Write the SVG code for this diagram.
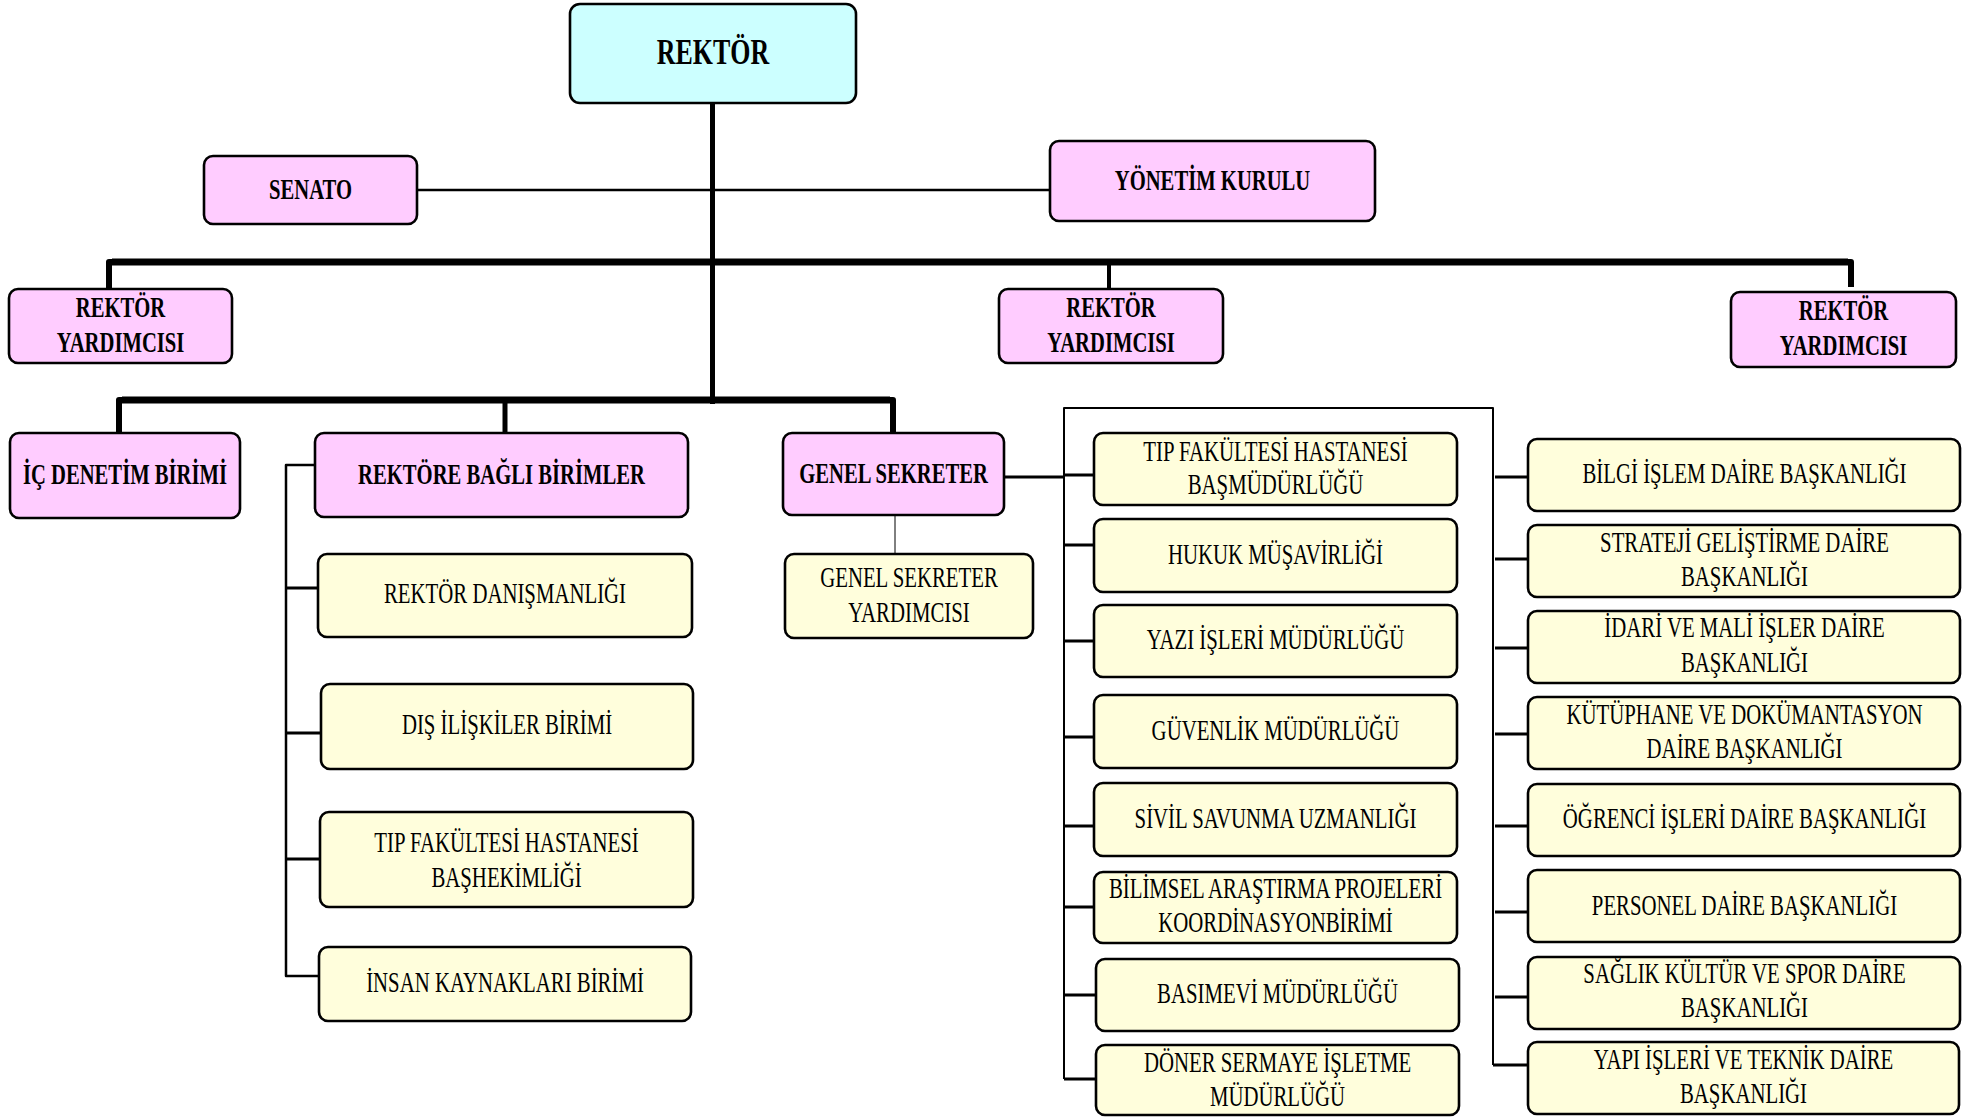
<svg xmlns="http://www.w3.org/2000/svg" width="1962" height="1117" viewBox="0 0 1962 1117">
  <style>
    .box { stroke: #000; stroke-width: 2.6; }
    .cyan { fill: #CCFFFF; }
    .pink { fill: #FFCCFF; }
    .yel { fill: #FFFEDC; }
    text { font-family: "Liberation Serif", "Times New Roman", "DejaVu Serif", serif; fill: #000; text-anchor: middle; }
    .b { font-size: 29.5px; font-weight: bold; }
    .big { font-size: 36px; font-weight: bold; }
    .r { font-size: 28.5px; }
    .wire { fill: none; stroke: #000; stroke-linejoin: round; }
    .w6 { stroke-width: 6; }
    .w5 { stroke-width: 5; }
    .w3 { stroke-width: 3; }
    .w25 { stroke-width: 2.5; }
    .w2 { stroke-width: 2; }
  </style>

  <rect width="1962" height="1117" fill="#fff"/>

  <!-- connectors -->
  <g id="connectors">
    <!-- trunk from the rector down to the lower bar -->
    <path class="wire w5" d="M712.5 103 V404"/>
    <!-- board line -->
    <path class="wire w25" d="M417 190 H1050"/>
    <!-- vice-rector bar -->
    <path class="wire w6" d="M109 289 V262 H1851 V287"/>
    <path class="wire" stroke-width="7" d="M112 262 H1848"/>
    <path class="wire" stroke-width="4" d="M1109 262 V289"/>
    <!-- lower bar -->
    <path class="wire w6" d="M119 433 V400 H893 V433"/>
    <path class="wire" stroke-width="7" d="M122 400 H890"/>
    <path class="wire w5" d="M505 400 V432"/>
    <!-- units attached to the rector -->
    <path class="wire w25" d="M315 465 H286 V976 H319"/>
    <path class="wire w3" d="M286 588 H318 M286 733 H321 M286 859 H320"/>
    <!-- secretary general to deputy -->
    <path class="wire" stroke="#777" stroke-width="1" d="M895 515 V554"/>
    <!-- secretary general to the departments -->
    <path class="wire w3" d="M1004 477 H1064"/>
    <path class="wire w2" d="M1064 1079 V408 H1493 V1065"/>
    <path class="wire w3" d="M1064 475 H1094 M1064 545 H1094 M1064 641 H1094 M1064 737 H1094 M1064 826 H1094 M1064 907 H1094 M1064 995 H1096 M1064 1079 H1096"/>
    <path class="wire w3" d="M1495 477 H1528 M1495 559 H1528 M1495 648 H1528 M1495 734 H1528 M1495 826 H1528 M1495 912 H1528 M1495 997 H1528 M1493 1065 H1528"/>
  </g>

  <!-- top level -->
  <g id="rektor">
    <rect class="box cyan" x="570" y="4" width="286" height="99" rx="10"/>
    <text class="big" transform="translate(713 0) scale(.72 1)" y="64">REKTÖR</text>
  </g>
  <g id="senato">
    <rect class="box pink" x="204" y="156" width="213" height="68" rx="9"/>
    <text class="b" transform="translate(310.5 0) scale(.70 1)" y="199">SENATO</text>
  </g>
  <g id="yonetim-kurulu">
    <rect class="box pink" x="1050" y="141" width="325" height="80" rx="9"/>
    <text class="b" transform="translate(1212.5 0) scale(.70 1)" y="190">YÖNETİM KURULU</text>
  </g>

  <!-- vice rectors -->
  <g id="rektor-yardimcisi-1">
    <rect class="box pink" x="9" y="289" width="223" height="74" rx="9"/>
    <text class="b" transform="translate(120.5 0) scale(.70 1)" y="317">REKTÖR</text>
    <text class="b" transform="translate(120.5 0) scale(.70 1)" y="352">YARDIMCISI</text>
  </g>
  <g id="rektor-yardimcisi-2">
    <rect class="box pink" x="999" y="289" width="224" height="74" rx="9"/>
    <text class="b" transform="translate(1111 0) scale(.70 1)" y="317">REKTÖR</text>
    <text class="b" transform="translate(1111 0) scale(.70 1)" y="352">YARDIMCISI</text>
  </g>
  <g id="rektor-yardimcisi-3">
    <rect class="box pink" x="1731" y="292" width="225" height="75" rx="9"/>
    <text class="b" transform="translate(1843.5 0) scale(.70 1)" y="320">REKTÖR</text>
    <text class="b" transform="translate(1843.5 0) scale(.70 1)" y="355">YARDIMCISI</text>
  </g>

  <!-- second level -->
  <g id="ic-denetim">
    <rect class="box pink" x="10" y="433" width="230" height="85" rx="9"/>
    <text class="b" transform="translate(125 0) scale(.70 1)" y="484">İÇ DENETİM BİRİMİ</text>
  </g>
  <g id="rektore-bagli">
    <rect class="box pink" x="315" y="433" width="373" height="84" rx="9"/>
    <text class="b" transform="translate(501.5 0) scale(.70 1)" y="484">REKTÖRE BAĞLI BİRİMLER</text>
  </g>
  <g id="genel-sekreter">
    <rect class="box pink" x="783" y="433" width="221" height="82" rx="9"/>
    <text class="b" transform="translate(893.5 0) scale(.70 1)" y="483">GENEL SEKRETER</text>
  </g>
  <g id="genel-sekreter-yardimcisi">
    <rect class="box yel" x="785" y="554" width="248" height="84" rx="9"/>
    <text class="r" transform="translate(909 0) scale(.73 1)" y="587">GENEL SEKRETER</text>
    <text class="r" transform="translate(909 0) scale(.73 1)" y="622">YARDIMCISI</text>
  </g>

  <!-- units attached to the rector -->
  <g id="rektor-danismanligi">
    <rect class="box yel" x="318" y="554" width="374" height="83" rx="9"/>
    <text class="r" transform="translate(505 0) scale(.73 1)" y="603">REKTÖR DANIŞMANLIĞI</text>
  </g>
  <g id="dis-iliskiler">
    <rect class="box yel" x="321" y="684" width="372" height="85" rx="9"/>
    <text class="r" transform="translate(507 0) scale(.73 1)" y="734">DIŞ İLİŞKİLER BİRİMİ</text>
  </g>
  <g id="tip-bashekimligi">
    <rect class="box yel" x="320" y="812" width="373" height="95" rx="9"/>
    <text class="r" transform="translate(506.5 0) scale(.73 1)" y="852">TIP FAKÜLTESİ HASTANESİ</text>
    <text class="r" transform="translate(506.5 0) scale(.73 1)" y="887">BAŞHEKİMLİĞİ</text>
  </g>
  <g id="insan-kaynaklari">
    <rect class="box yel" x="319" y="947" width="372" height="74" rx="9"/>
    <text class="r" transform="translate(505 0) scale(.73 1)" y="992">İNSAN KAYNAKLARI BİRİMİ</text>
  </g>

  <!-- units under the secretary general: first column -->
  <g id="tip-basmudurlugu">
    <rect class="box yel" x="1094" y="433" width="363" height="72" rx="9"/>
    <text class="r" transform="translate(1275.5 0) scale(.73 1)" y="461">TIP FAKÜLTESİ HASTANESİ</text>
    <text class="r" transform="translate(1275.5 0) scale(.73 1)" y="494">BAŞMÜDÜRLÜĞÜ</text>
  </g>
  <g id="hukuk">
    <rect class="box yel" x="1094" y="519" width="363" height="73" rx="9"/>
    <text class="r" transform="translate(1275.5 0) scale(.73 1)" y="564">HUKUK MÜŞAVİRLİĞİ</text>
  </g>
  <g id="yazi-isleri">
    <rect class="box yel" x="1094" y="605" width="363" height="72" rx="9"/>
    <text class="r" transform="translate(1275.5 0) scale(.73 1)" y="649">YAZI İŞLERİ MÜDÜRLÜĞÜ</text>
  </g>
  <g id="guvenlik">
    <rect class="box yel" x="1094" y="695" width="363" height="73" rx="9"/>
    <text class="r" transform="translate(1275.5 0) scale(.73 1)" y="740">GÜVENLİK MÜDÜRLÜĞÜ</text>
  </g>
  <g id="sivil-savunma">
    <rect class="box yel" x="1094" y="783" width="363" height="73" rx="9"/>
    <text class="r" transform="translate(1275.5 0) scale(.73 1)" y="828">SİVİL SAVUNMA UZMANLIĞI</text>
  </g>
  <g id="bap">
    <rect class="box yel" x="1094" y="872" width="363" height="71" rx="9"/>
    <text class="r" transform="translate(1275.5 0) scale(.73 1)" y="898">BİLİMSEL ARAŞTIRMA PROJELERİ</text>
    <text class="r" transform="translate(1275.5 0) scale(.73 1)" y="932">KOORDİNASYONBİRİMİ</text>
  </g>
  <g id="basimevi">
    <rect class="box yel" x="1096" y="959" width="363" height="72" rx="9"/>
    <text class="r" transform="translate(1277.5 0) scale(.73 1)" y="1003">BASIMEVİ MÜDÜRLÜĞÜ</text>
  </g>
  <g id="doner-sermaye">
    <rect class="box yel" x="1096" y="1045" width="363" height="70" rx="9"/>
    <text class="r" transform="translate(1277.5 0) scale(.73 1)" y="1072">DÖNER SERMAYE İŞLETME</text>
    <text class="r" transform="translate(1277.5 0) scale(.73 1)" y="1106">MÜDÜRLÜĞÜ</text>
  </g>

  <!-- units under the secretary general: second column -->
  <g id="bilgi-islem">
    <rect class="box yel" x="1528" y="439" width="432" height="72" rx="9"/>
    <text class="r" transform="translate(1744.5 0) scale(.73 1)" y="483">BİLGİ İŞLEM DAİRE BAŞKANLIĞI</text>
  </g>
  <g id="strateji">
    <rect class="box yel" x="1528" y="525" width="432" height="72" rx="9"/>
    <text class="r" transform="translate(1744.5 0) scale(.73 1)" y="552">STRATEJİ GELİŞTİRME DAİRE</text>
    <text class="r" transform="translate(1744.5 0) scale(.73 1)" y="586">BAŞKANLIĞI</text>
  </g>
  <g id="idari-mali">
    <rect class="box yel" x="1528" y="611" width="432" height="72" rx="9"/>
    <text class="r" transform="translate(1744.5 0) scale(.73 1)" y="637">İDARİ VE MALİ İŞLER DAİRE</text>
    <text class="r" transform="translate(1744.5 0) scale(.73 1)" y="672">BAŞKANLIĞI</text>
  </g>
  <g id="kutuphane">
    <rect class="box yel" x="1528" y="697" width="432" height="72" rx="9"/>
    <text class="r" transform="translate(1744.5 0) scale(.73 1)" y="724">KÜTÜPHANE VE DOKÜMANTASYON</text>
    <text class="r" transform="translate(1744.5 0) scale(.73 1)" y="758">DAİRE BAŞKANLIĞI</text>
  </g>
  <g id="ogrenci-isleri">
    <rect class="box yel" x="1528" y="784" width="432" height="72" rx="9"/>
    <text class="r" transform="translate(1744.5 0) scale(.73 1)" y="828">ÖĞRENCİ İŞLERİ DAİRE BAŞKANLIĞI</text>
  </g>
  <g id="personel">
    <rect class="box yel" x="1528" y="870" width="432" height="72" rx="9"/>
    <text class="r" transform="translate(1744.5 0) scale(.73 1)" y="915">PERSONEL DAİRE BAŞKANLIĞI</text>
  </g>
  <g id="saglik-kultur">
    <rect class="box yel" x="1528" y="957" width="432" height="72" rx="9"/>
    <text class="r" transform="translate(1744.5 0) scale(.73 1)" y="983">SAĞLIK KÜLTÜR VE SPOR DAİRE</text>
    <text class="r" transform="translate(1744.5 0) scale(.73 1)" y="1017">BAŞKANLIĞI</text>
  </g>
  <g id="yapi-isleri">
    <rect class="box yel" x="1528" y="1042" width="431" height="72" rx="9"/>
    <text class="r" transform="translate(1743.5 0) scale(.73 1)" y="1069">YAPI İŞLERİ VE TEKNİK DAİRE</text>
    <text class="r" transform="translate(1743.5 0) scale(.73 1)" y="1103">BAŞKANLIĞI</text>
  </g>
</svg>
